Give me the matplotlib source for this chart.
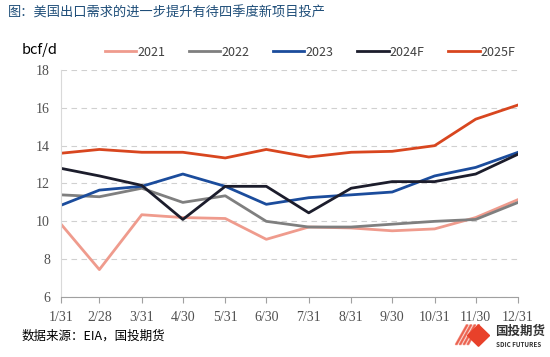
import matplotlib.pyplot as plt
from matplotlib.patches import Polygon

plt.rcParams['font.family'] = ['Noto Sans CJK SC', 'DejaVu Sans']

# 月末日期（按年内天数定位）
dates = ['1/31', '2/28', '3/31', '4/30', '5/31', '6/30',
         '7/31', '8/31', '9/30', '10/31', '11/30', '12/31']
day_of_year = [31, 59, 90, 120, 151, 181, 212, 243, 273, 304, 334, 365]

y2021 = [9.85, 7.45, 10.35, 10.2, 10.15, 9.05, 9.7, 9.65, 9.5, 9.6, 10.2, 11.15]
y2022 = [11.4, 11.3, 11.75, 11.0, 11.35, 10.0, 9.7, 9.7, 9.85, 10.0, 10.1, 11.0]
y2023 = [10.85, 11.65, 11.85, 12.5, 11.85, 10.9, 11.25, 11.4, 11.55, 12.4, 12.85, 13.65]
y2024f = [12.8, 12.4, 11.9, 10.1, 11.85, 11.85, 10.45, 11.75, 12.1, 12.1, 12.5, 13.55]
y2025f = [13.6, 13.8, 13.65, 13.65, 13.35, 13.8, 13.4, 13.65, 13.7, 14.0, 15.4, 16.15]

series = [('2021', y2021, '#EF9B8D'),
          ('2022', y2022, '#7F7F7F'),
          ('2023', y2023, '#1B4C9C'),
          ('2024F', y2024f, '#1C1D2C'),
          ('2025F', y2025f, '#D8461F')]

fig = plt.figure(figsize=(5.5, 3.57), dpi=100)
ax = fig.add_axes([0.111, 0.168, 0.831, 0.636])

for name, vals, color in series:
    ax.plot(day_of_year, vals, color=color, lw=2.0, label=name)

ax.set_xlim(31, 365)
ax.set_ylim(6, 18)
ax.set_yticks(range(6, 19, 2))
ax.set_xticks(day_of_year)
ax.set_xticklabels(dates, family=['Liberation Serif', 'DejaVu Serif'])
ax.grid(axis='y', ls=(0, (5, 4)), color='#D0D0D0', lw=0.8)
ax.tick_params(axis='x', direction='out', length=4, color='#A0A0A0',
               labelsize=10, labelcolor='#505050', pad=6)
ax.tick_params(axis='y', length=0, labelsize=10, labelcolor='#505050', pad=8)
for lab in ax.get_yticklabels():
    lab.set_family(['Liberation Serif', 'DejaVu Serif'])
for s in ['top', 'right']:
    ax.spines[s].set_visible(False)
ax.spines['left'].set_color('#D9D9D9')
ax.spines['bottom'].set_color('#A0A0A0')

ax.legend(loc='lower center', bbox_to_anchor=(0.545, 1.0), ncol=5,
          frameon=False, fontsize=9, handlelength=2.5, handletextpad=0.1,
          columnspacing=1.9, labelcolor='#404040')

fig.text(0.015, 0.965, '图：美国出口需求的进一步提升有待四季度新项目投产',
         fontsize=9.5, color='#1F4E79', va='center')
fig.text(0.04, 0.86, 'bcf/d', fontsize=10.5, va='center')
fig.text(0.04, 0.058, '数据来源：EIA，国投期货', fontsize=9, va='center')

# 右下角标识
fig.patches.append(Polygon([[0.85, 0.06], [0.87, 0.03], [0.89, 0.06], [0.87, 0.09]],
                           closed=True, transform=fig.transFigure, color='#E8412A'))
for i in range(4):
    x0 = 0.828 + i * 0.007
    fig.patches.append(Polygon([[x0, 0.035], [x0 + 0.02, 0.09], [x0 + 0.023, 0.09], [x0 + 0.003, 0.035]],
                               closed=True, transform=fig.transFigure, color='#E8412A', alpha=0.6))
fig.text(0.9, 0.072, '国投期货', fontsize=9, weight='bold', color='#333333', va='center')
fig.text(0.902, 0.036, 'SDIC FUTURES', fontsize=4.5, weight='bold', color='#333333', va='center')

fig.savefig('out.png', dpi=100)
